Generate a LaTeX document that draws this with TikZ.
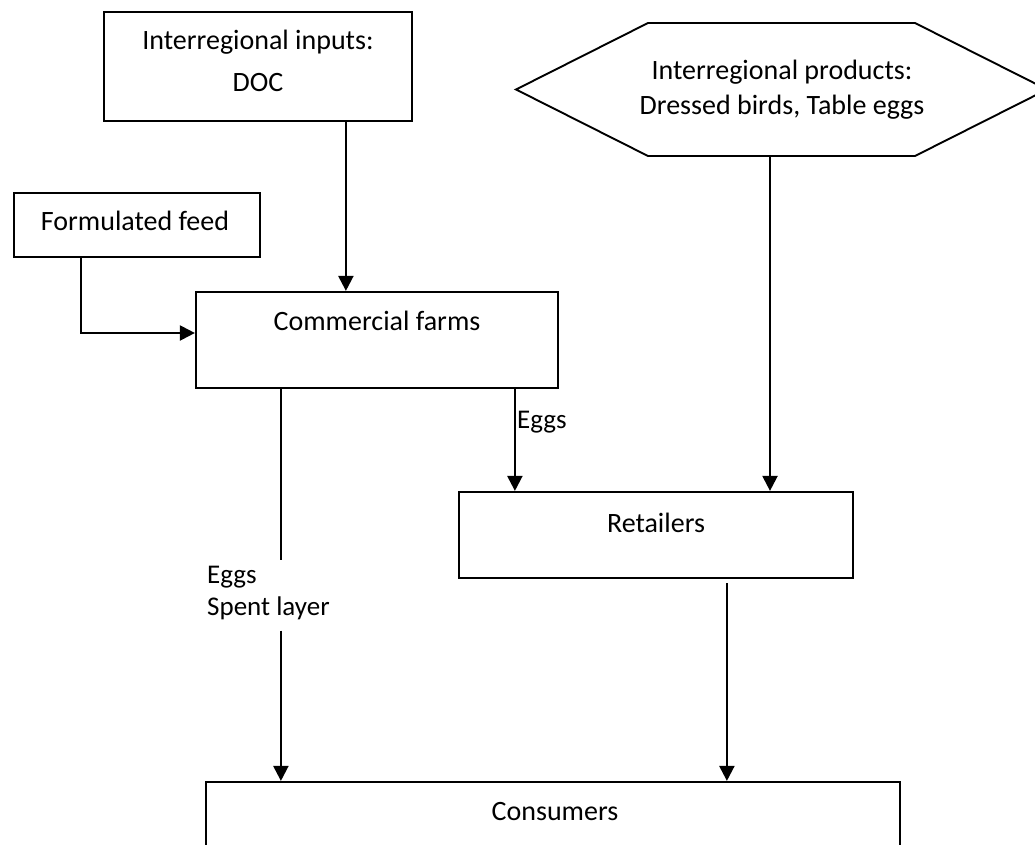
\documentclass[tikz,border=0pt]{standalone}
\usepackage{fontspec}
\setmainfont{Carlito}
\usetikzlibrary{arrows.meta,calc}
\begin{document}
\begin{tikzpicture}[x=1pt,y=-1pt,
  box/.style={draw, line width=2.2pt, inner sep=0pt},
  txt/.style={font=\fontsize{28}{34}\selectfont, inner sep=0pt, anchor=base},
  lbl/.style={font=\fontsize{27}{33}\selectfont, inner sep=0pt, anchor=base west},
  link/.style={line width=2.2pt},
  arr/.style={line width=2.2pt, -{Triangle[width=15pt,length=15pt]}}]

% canvas
\clip (0,0) rectangle (1035,845);
\fill[white] (0,0) rectangle (1035,845);

% boxes
\node[box, minimum width=308pt, minimum height=109pt] (doc) at (258,66.5) {};
\node[txt] (doct1) at (258,50) {Interregional inputs:};
\node[txt] (doct2) at (258,92) {DOC};

\node[box, minimum width=246pt, minimum height=64pt] (feed) at (137,225) {};
\node[txt] (feedt) at (135,230) {Formulated feed};

\node[box, minimum width=362pt, minimum height=96pt] (farms) at (377,340) {};
\node[txt] (farmst) at (377,330) {Commercial farms};

\node[box, minimum width=394pt, minimum height=86pt] (retail) at (656,535) {};
\node[txt] (retailt) at (656,532) {Retailers};

\node[box, minimum width=694pt, minimum height=98pt] (cons) at (553,831) {};
\node[txt] (const) at (555,820) {Consumers};

% hexagon of interregional products
\draw[line width=1.9pt] (516,89.5) -- (648,23) -- (915,23) -- (1047,89.5)
  -- (915,156) -- (648,156) -- cycle;
\node[txt] (prodt1) at (782,80) {Interregional products:};
\node[txt] (prodt2) at (782,115) {Dressed birds, Table eggs};
\coordinate (hexb) at (770,156);

% flow labels
\node[lbl] (eggsr) at (517,428) {Eggs};
\node[lbl] (eggsl) at (207,583) {Eggs};
\node[lbl] (spentl) at (207,615) {Spent layer};

% connectors
\draw[arr] ($(doc.south west)+(243,0)$) -- ($(farms.north west)+(151,0)$);
\draw[arr] ($(feed.south west)+(68,0)$) |- ([yshift=7pt]farms.west);
\draw[arr] ($(farms.south west)+(320,0)$) -- ($(retail.north west)+(57,0)$);
\draw[arr] (hexb) -- (hexb |- retail.north);
\draw[arr, shorten <=4pt] ($(retail.south west)+(269,0)$) coordinate (rs)
  -- (rs |- cons.north);

\coordinate (fs) at ($(farms.south west)+(86,0)$);
\draw[link] (fs) -- ([yshift=5pt]fs |- eggsl.north);
\draw[arr] ([yshift=-11pt]fs |- spentl.south) -- (fs |- cons.north);

\end{tikzpicture}
\end{document}
